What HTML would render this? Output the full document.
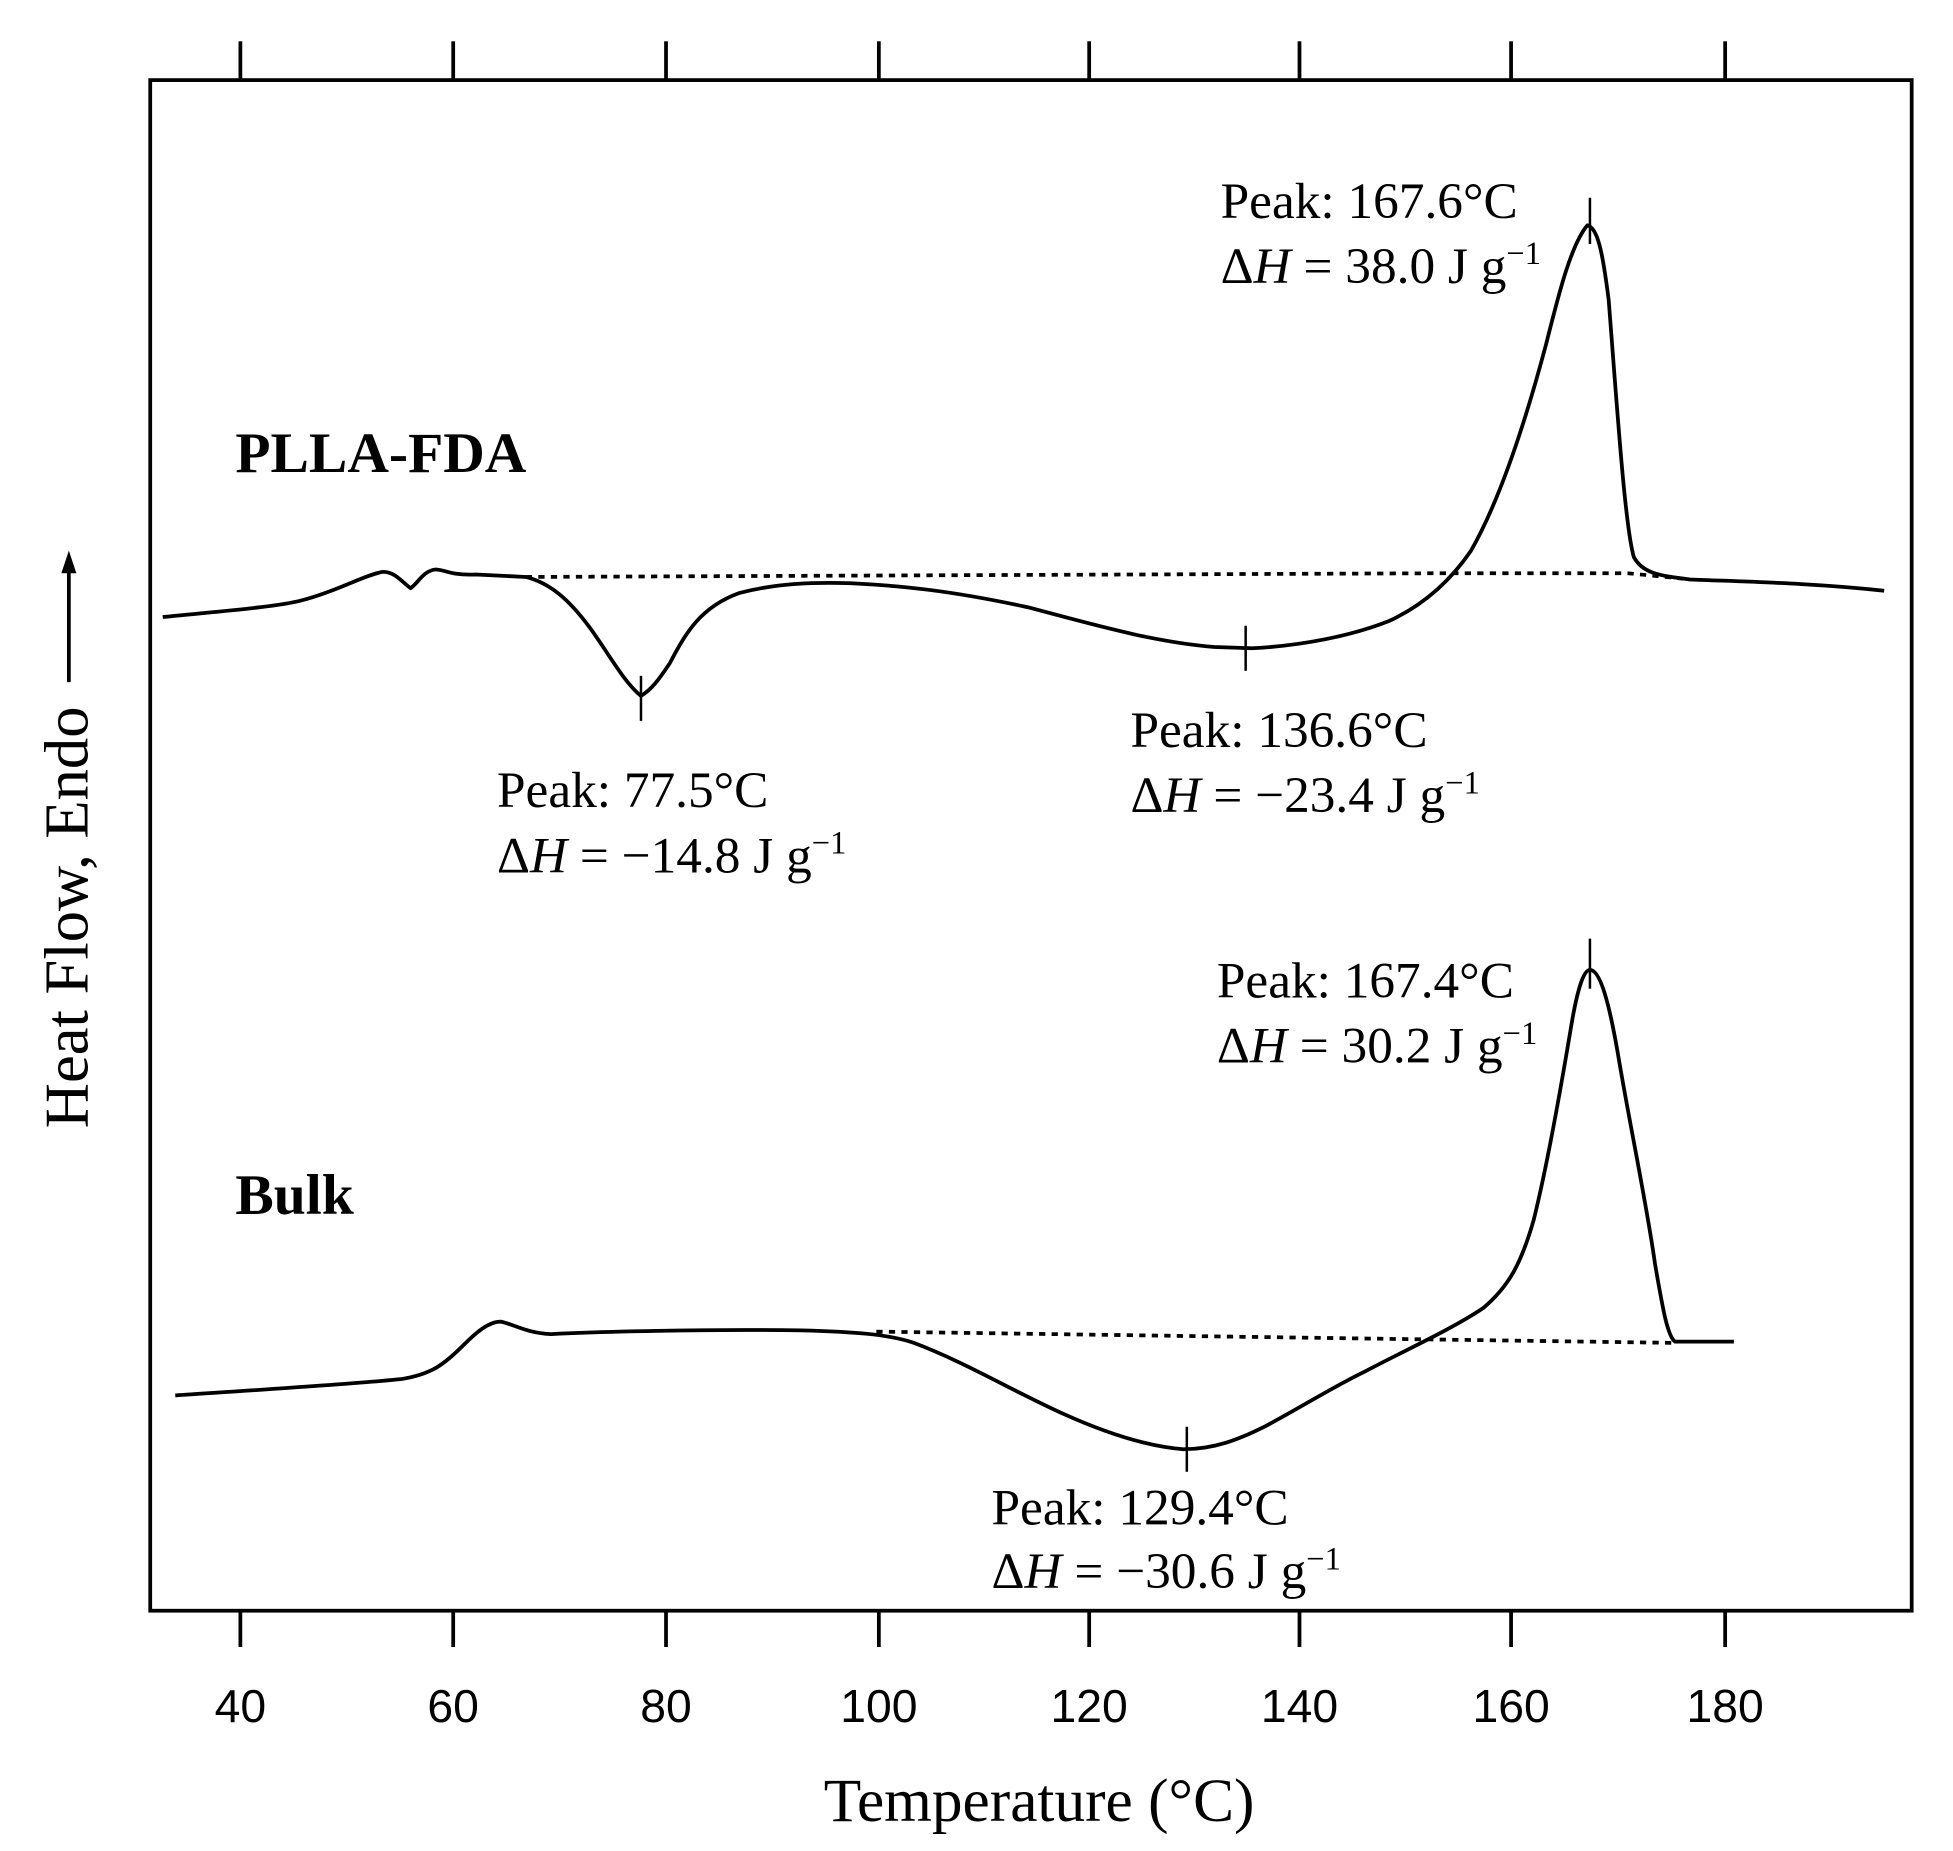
<!DOCTYPE html>
<html><head><style>html,body{margin:0;padding:0;background:#fff}svg{display:block}</style></head>
<body>
<svg width="1953" height="1851" viewBox="0 0 1560 1479" preserveAspectRatio="none" xmlns="http://www.w3.org/2000/svg">
<rect x="0" y="0" width="1560" height="1479" fill="#fff"/>
<rect x="120" y="64" width="1407" height="1223" fill="none" stroke="#000" stroke-width="3"/>
<g stroke="#000" stroke-width="3">
<line x1="192" y1="33" x2="192" y2="64"/><line x1="362" y1="33" x2="362" y2="64"/><line x1="532" y1="33" x2="532" y2="64"/><line x1="702" y1="33" x2="702" y2="64"/><line x1="870" y1="33" x2="870" y2="64"/><line x1="1038" y1="33" x2="1038" y2="64"/><line x1="1207" y1="33" x2="1207" y2="64"/><line x1="1378" y1="33" x2="1378" y2="64"/>
<line x1="192" y1="1287" x2="192" y2="1316"/><line x1="362" y1="1287" x2="362" y2="1316"/><line x1="532" y1="1287" x2="532" y2="1316"/><line x1="702" y1="1287" x2="702" y2="1316"/><line x1="870" y1="1287" x2="870" y2="1316"/><line x1="1038" y1="1287" x2="1038" y2="1316"/><line x1="1207" y1="1287" x2="1207" y2="1316"/><line x1="1378" y1="1287" x2="1378" y2="1316"/>
</g>
<g font-family="Liberation Sans, sans-serif" font-size="37" text-anchor="middle">
<text x="192" y="1376">40</text><text x="362" y="1376">60</text><text x="532" y="1376">80</text><text x="702" y="1376">100</text><text x="870" y="1376">120</text><text x="1038" y="1376">140</text><text x="1207" y="1376">160</text><text x="1378" y="1376">180</text>
</g>
<text x="830" y="1455" font-family="Liberation Serif, serif" font-size="49" text-anchor="middle">Temperature  (°C)</text>
<g transform="translate(70,733) rotate(-90)"><text x="0" y="0" font-family="Liberation Serif, serif" font-size="50" text-anchor="middle">Heat Flow, Endo</text></g>
<line x1="55" y1="545" x2="55" y2="455" stroke="#000" stroke-width="3"/>
<polygon points="55,440 49,458 61,458" fill="#000"/>
<g fill="none" stroke="#000" stroke-width="3" stroke-linejoin="round">
<path d="M130,493 C180,488 220,485 240,480 C270,472 290,460 305,457 C315,456 322,466 328,470 C334,466 338,456 348,455 C355,455 360,460 380,459 L420,461 C440,466 455,480 470,500 C485,520 498,545 512,556 C522,550 528,540 535,530 C548,505 560,485 590,474 C620,466 650,465 680,466 C720,468 760,472 820,485 C870,498 920,513 970,517 L1000,518 C1040,516 1080,508 1110,496 C1140,482 1160,462 1175,440 C1195,405 1215,350 1235,275 C1245,235 1255,195 1268,180 C1276,182 1280,200 1285,240 C1292,330 1298,420 1305,445 C1312,458 1325,460 1350,463 C1400,465 1450,466 1505,472"/>
<path d="M140,1115 C200,1111 280,1106 320,1102 C345,1098 355,1090 370,1075 C380,1065 390,1056 400,1056 C410,1058 420,1065 440,1066 C480,1064 560,1062 640,1063 C680,1064 710,1066 730,1073 C770,1088 810,1112 850,1130 C890,1148 920,1156 945,1158 C970,1158 990,1150 1010,1140 C1040,1124 1065,1108 1090,1096 C1120,1080 1160,1062 1185,1045 C1205,1028 1215,1010 1225,975 C1235,935 1245,880 1255,820 C1260,790 1265,775 1270,775 C1278,775 1285,800 1292,840 C1302,900 1315,960 1322,1010 C1328,1045 1332,1068 1338,1072 L1385,1072"/>
</g>
<g fill="none" stroke="#000" stroke-width="3" stroke-dasharray="5,5">
<path d="M420,461 L1160,458 L1300,458 L1350,463"/>
<path d="M700,1064 L1338,1073"/>
</g>
<g stroke="#000" stroke-width="2">
<line x1="512" y1="540" x2="512" y2="576"/><line x1="995" y1="500" x2="995" y2="536"/><line x1="1270" y1="158" x2="1270" y2="195"/>
<line x1="948" y1="1140" x2="948" y2="1176"/><line x1="1270" y1="750" x2="1270" y2="790"/>
</g>
<g font-family="Liberation Serif, serif" font-size="41">
<text x="975" y="174">Peak: 167.6°C</text>
<text x="975" y="226">Δ<tspan font-style="italic">H</tspan> = 38.0 J g<tspan font-size="26" dy="-15">−1</tspan></text>
<text x="397" y="645">Peak: 77.5°C</text>
<text x="397" y="697">Δ<tspan font-style="italic">H</tspan> = −14.8 J g<tspan font-size="26" dy="-15">−1</tspan></text>
<text x="903" y="597">Peak: 136.6°C</text>
<text x="903" y="649">Δ<tspan font-style="italic">H</tspan> = −23.4 J g<tspan font-size="26" dy="-15">−1</tspan></text>
<text x="972" y="797">Peak: 167.4°C</text>
<text x="972" y="849">Δ<tspan font-style="italic">H</tspan> = 30.2 J g<tspan font-size="26" dy="-15">−1</tspan></text>
<text x="792" y="1218">Peak: 129.4°C</text>
<text x="792" y="1269">Δ<tspan font-style="italic">H</tspan> = −30.6 J g<tspan font-size="26" dy="-15">−1</tspan></text>
</g>
<text x="188" y="377" font-family="Liberation Serif, serif" font-size="46" font-weight="bold">PLLA-FDA</text>
<text x="188" y="970" font-family="Liberation Serif, serif" font-size="46" font-weight="bold">Bulk</text>
</svg>
</body></html>
